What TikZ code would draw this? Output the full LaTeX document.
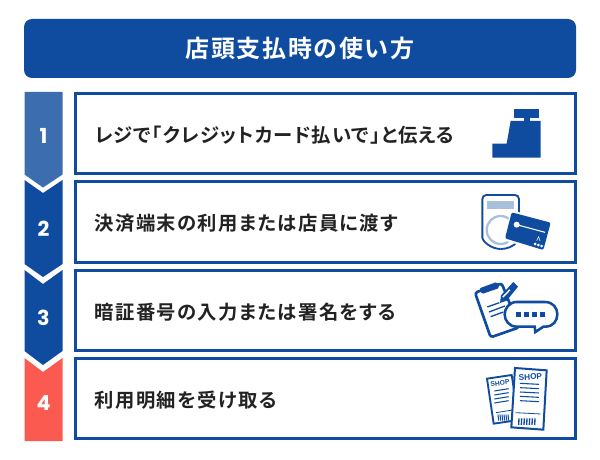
\documentclass[tikz,border=0pt]{standalone}
\usepackage{fontspec}
\newfontfamily\jpb[BoldFont={Noto Sans CJK JP Bold},RawFeature={+palt},LetterSpace=7]{Noto Sans CJK JP}
\newfontfamily\jpc[BoldFont={Noto Sans CJK JP Bold},RawFeature={+palt},LetterSpace=5.5]{Noto Sans CJK JP}
\newfontfamily\numf{Poppins}
\newfontfamily\shopf{Liberation Sans}
\definecolor{mainblue}{HTML}{0F4C9F}
\definecolor{lightblue}{HTML}{3C6EAF}
\definecolor{redblock}{HTML}{FB5A50}
\definecolor{ink}{HTML}{222222}
\definecolor{pale}{HTML}{A9C0DB}
\tikzset{
  x=0.75pt,y=-0.75pt,
  banner/.style={fill=mainblue,rounded corners=6pt},
  stepframe/.style={draw=mainblue,line width=2.25pt,fill=white},
  steptext/.style={anchor=west,inner sep=0pt,text=ink,font=\jpb\bfseries\fontsize{14.5}{16}\selectfont},
  stepnum/.style={text=white,inner sep=0pt,font=\numf\bfseries\fontsize{15.5}{18}\selectfont},
  iconline/.style={draw=mainblue,line width=1pt},
}
\begin{document}
\begin{tikzpicture}
\useasboundingbox (0,0) rectangle (600,460);
\fill[white] (0,0) rectangle (600,460);
% banner
\path[banner] (24,19) rectangle (576,78);
\node[inner sep=0pt,text=white,font=\jpb\bfseries\fontsize{18}{20}\selectfont] (title) at (300,48) {店頭支払時の使い方};
% step blocks
\fill[lightblue] (24.5,92) -- (62.5,92) -- (62.5,174.5) -- (43,187.5) -- (24.5,174.5) -- cycle;
\fill[mainblue] (24.5,180) -- (43,193) -- (62.5,180) -- (62.5,264) -- (43,277) -- (24.5,264) -- cycle;
\fill[mainblue] (24.5,270) -- (43,284) -- (62.5,270) -- (62.5,351) -- (43,365) -- (24.5,351) -- cycle;
\fill[redblock] (24.5,358) -- (43,372) -- (62.5,358) -- (62.5,441) -- (24.5,441) -- cycle;
\node[stepnum] (n1) at (43.5,136) {1};
\node[stepnum] (n2) at (43.5,229) {2};
\node[stepnum] (n3) at (43.5,318) {3};
\node[stepnum] (n4) at (43.5,403) {4};
% frames
\draw[stepframe] (75,93.5) rectangle (575.5,173.5);
\draw[stepframe] (75,181.5) rectangle (575.5,262.5);
\draw[stepframe] (75,270.5) rectangle (575.5,350);
\draw[stepframe] (75,358.5) rectangle (575.5,438.5);
\node[steptext,font=\jpc\bfseries\fontsize{14.5}{16}\selectfont] (t1) at (94.5,135) {レジで「クレジットカード払いで」と伝える};
\node[steptext] (t2) at (94.5,223) {決済端末の利用または店員に渡す};
\node[steptext] (t3) at (94.5,312) {暗証番号の入力または署名をする};
\node[steptext] (t4) at (94.5,400) {利用明細を受け取る};
% register icon
\begin{scope}[shift={(460,95)},x=0.25pt,y=-0.25pt]
\fill[mainblue] (163,43) rectangle (238,68);
\fill[mainblue] (192,66) rectangle (210,80);
\fill[mainblue] (152,78) -- (242,78) -- (242,188) -- (97,188) -- (97,146) -- (140,146) -- cycle;
\end{scope}
% terminal icon
\begin{scope}[shift={(460,95)},x=0.25pt,y=-0.25pt]
\draw[mainblue,line width=1.4pt,rounded corners=3pt] (122,462) .. controls (95,462) and (67,440) .. (67,415) -- (67,300) -- (177,300) -- (177,360);
\draw[mainblue,line width=1.4pt] (122,462) .. controls (140,462) and (160,455) .. (172,440);
\fill[pale] (80,319) rectangle (161,343);
\draw[pale,line width=1.7pt] (122,405) circle[radius=42];
\fill[white] (153,345) -- (280,380) -- (255,472) -- (128,435) -- cycle;
\fill[mainblue,rounded corners=1.5pt] (155,352) -- (272,383) -- (250,465) -- (135,430) -- cycle;
\draw[white,line width=0.8pt] (170,389) -- (255,412);
\fill[white] (170,389) circle[radius=9];
\fill[white] (225,447) circle[radius=4.5];
\fill[white] (235,450) circle[radius=4.5];
\fill[white] (245,453) circle[radius=4.5];
\draw[white,line width=0.4pt] (230,437) -- (236,425) -- (240,438);
\end{scope}
% clipboard icon
\begin{scope}[shift={(460,270)},x=0.25pt,y=-0.25pt]
\draw[mainblue,line width=2pt,fill=white,rounded corners=2pt] (45,68) -- (125,40) -- (178,172) -- (92,202) -- cycle;
\fill[mainblue,rounded corners=1pt] (58,55) -- (110,36) -- (118,54) -- (66,72) -- cycle;
\draw[iconline] (82,111) -- (118,98);
\draw[iconline] (87,126) -- (135,108);
\draw[iconline] (92,140) -- (130,126);
\fill[mainblue] (120,99) -- (123,76) -- (160,36) -- (174,50) -- (140,92) -- cycle;
\fill[white] (127,80) -- (148,58) -- (151,61) -- (130,83) -- cycle;
\draw[mainblue,line width=1.9pt,fill=white] (170,96) -- (255,96) .. controls (280,96) and (292,115) .. (292,133) .. controls (292,152) and (280,170) .. (255,170) -- (250,170) -- (226,186) -- (224,170) -- (170,170) .. controls (148,170) and (134,152) .. (134,133) .. controls (134,115) and (148,96) .. (170,96) -- cycle;
\foreach \dx in {168,192,216,240}{\fill[mainblue] (\dx,126) rectangle ++(15,16);}
\end{scope}
% receipts icon
\begin{scope}[shift={(460,270)},x=0.25pt,y=-0.25pt]
\draw[mainblue,line width=1.4pt,fill=white] (81,326) -- (155,315) -- (176,450) -- (101,461) -- cycle;
\node[rotate=8,inner sep=0pt,text=mainblue,font=\shopf\bfseries\fontsize{5}{5}\selectfont] (s1) at (120,340) {SHOP};
\foreach \a in {361,373,385,397}{\draw[mainblue,line width=0.8pt] (103,\a+2) -- (146,\a-5);}
\draw[mainblue,line width=0.6pt] (108,428) -- (158,420);
\foreach \dx in {116,122,128,134,140,146}{\draw[mainblue,line width=0.8pt] (\dx,452) -- (\dx-2,434);}
\draw[mainblue,line width=1.5pt,fill=white] (165,294) -- (260,301) -- (250,479) -- (154,472) -- cycle;
\node[rotate=3,inner sep=0pt,text=mainblue,font=\shopf\bfseries\fontsize{6.2}{6}\selectfont] (s2) at (211,321) {SHOP};
\foreach \a in {340,353,366,379,392}{\draw[mainblue,line width=0.8pt] (180,\a) -- (237,\a+3);}
\draw[mainblue,line width=0.6pt] (167,428) -- (242,432);
\foreach \dx in {177,185,193,201,209,217,225}{\draw[mainblue,line width=1pt] (\dx,445) -- (\dx-1,465);}
\end{scope}
\end{tikzpicture}
\end{document}
